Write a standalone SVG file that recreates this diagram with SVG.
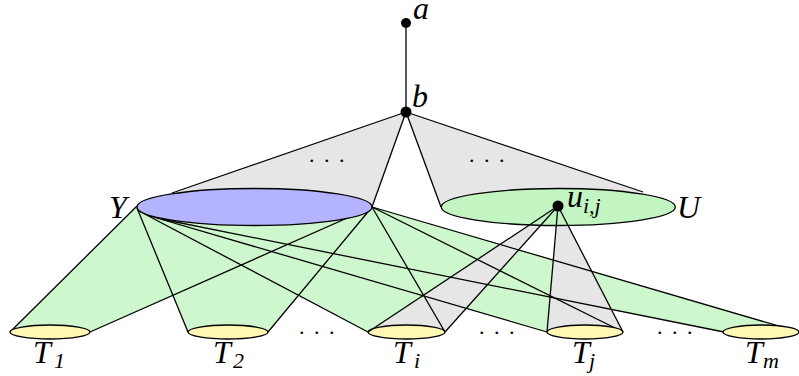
<svg xmlns="http://www.w3.org/2000/svg" width="799" height="376" viewBox="0 0 799 376">
<style>
.gray{fill:#e6e6e6;stroke:none}
.green{fill:#cff7cd;stroke:none}
.ln{stroke:#000;stroke-width:1.3;fill:none}
.ell{stroke:#000;stroke-width:1.3}
.t{fill:#fff7b3}
.dot{fill:#000}
.lab{font-family:"Liberation Serif",serif;font-style:italic;font-size:32px;fill:#000}
.sub{font-size:22px}
.dots{font-family:"Liberation Serif",serif;font-size:22px;letter-spacing:9.5px;fill:#000}
</style>
<rect width="799" height="376" fill="#fff"/>
<g id="fills">
<polygon class="gray" points="406,112 172,193 372,207"/>
<polygon class="gray" points="406,112 441,207 643,192"/>
<polygon class="green" points="137,206 10,332 90,332 372,207"/>
<polygon class="green" points="137,208 188,332 268,332 372,207"/>
<polygon class="green" points="139,211 368,332 445,332 372,207"/>
<polygon class="green" points="150,216 547,332 623,332 372,207"/>
<polygon class="green" points="161,219 724,332 799,332 372,207"/>
<polygon class="gray" points="558,206 368,332 445,332"/>
<polygon class="gray" points="558,206 547,332 623,332"/>
</g>
<g id="connectors">
<line class="ln" x1="406" y1="23" x2="406" y2="112"/>
<line class="ln" x1="406" y1="112" x2="172" y2="193"/>
<line class="ln" x1="406" y1="112" x2="372" y2="207"/>
<line class="ln" x1="406" y1="112" x2="441" y2="207"/>
<line class="ln" x1="406" y1="112" x2="643" y2="192"/>
<line class="ln" x1="137" y1="206" x2="10" y2="332"/>
<line class="ln" x1="372" y1="207" x2="90" y2="332"/>
<line class="ln" x1="137" y1="208" x2="188" y2="332"/>
<line class="ln" x1="372" y1="207" x2="268" y2="332"/>
<line class="ln" x1="139" y1="211" x2="368" y2="332"/>
<line class="ln" x1="372" y1="207" x2="445" y2="332"/>
<line class="ln" x1="150" y1="216" x2="547" y2="332"/>
<line class="ln" x1="372" y1="207" x2="623" y2="332"/>
<line class="ln" x1="161" y1="219" x2="724" y2="332"/>
<line class="ln" x1="372" y1="207" x2="799" y2="332"/>
</g>
<g id="Y"><ellipse class="ell" cx="254.5" cy="207" rx="117.5" ry="18.5" fill="#b3b3ff"/><text class="lab" x="109" y="218">Y</text></g>
<g id="U"><ellipse class="ell" cx="558.3" cy="207" rx="117" ry="18.5" fill="#c2f5c2"/><text class="lab" x="677" y="218">U</text></g>
<g id="T1"><ellipse class="ell t" cx="50" cy="332" rx="40" ry="7"/><text class="lab" x="33" y="363">T<tspan class="sub" x="54" y="368">1</tspan></text></g>
<g id="T2"><ellipse class="ell t" cx="228" cy="332" rx="40" ry="7"/><text class="lab" x="213" y="363">T<tspan class="sub" x="233" y="368">2</tspan></text></g>
<g id="Ti"><ellipse class="ell t" cx="406.5" cy="332" rx="38.5" ry="7"/><text class="lab" x="393" y="363">T<tspan class="sub" x="414" y="368">i</tspan></text></g>
<g id="Tj"><ellipse class="ell t" cx="585" cy="332" rx="38" ry="7"/><text class="lab" x="572" y="363">T<tspan class="sub" x="589" y="368">j</tspan></text></g>
<g id="Tm"><ellipse class="ell t" cx="761" cy="332" rx="38" ry="7"/><text class="lab" x="745" y="363">T<tspan class="sub" x="763" y="368">m</tspan></text></g>
<g id="u-connectors">
<line class="ln" x1="558" y1="206" x2="368" y2="332"/>
<line class="ln" x1="558" y1="206" x2="445" y2="332"/>
<line class="ln" x1="558" y1="206" x2="547" y2="332"/>
<line class="ln" x1="558" y1="206" x2="623" y2="332"/>
</g>
<g id="a"><circle class="dot" cx="406" cy="23" r="5"/><text class="lab" x="413" y="19">a</text></g>
<g id="b"><circle class="dot" cx="406" cy="112" r="5.5"/><text class="lab" x="412" y="107">b</text></g>
<g id="u"><circle class="dot" cx="558" cy="206" r="5.5"/><text class="lab" x="567" y="207">u<tspan class="sub" y="213">i,j</tspan></text></g>
<g id="ellipses-dots">
<text class="dots" x="309" y="162">...</text>
<text class="dots" x="469" y="162">...</text>
<text class="dots" x="299" y="334">...</text>
<text class="dots" x="479" y="334">...</text>
<text class="dots" x="657" y="334">...</text>
</g>
</svg>
